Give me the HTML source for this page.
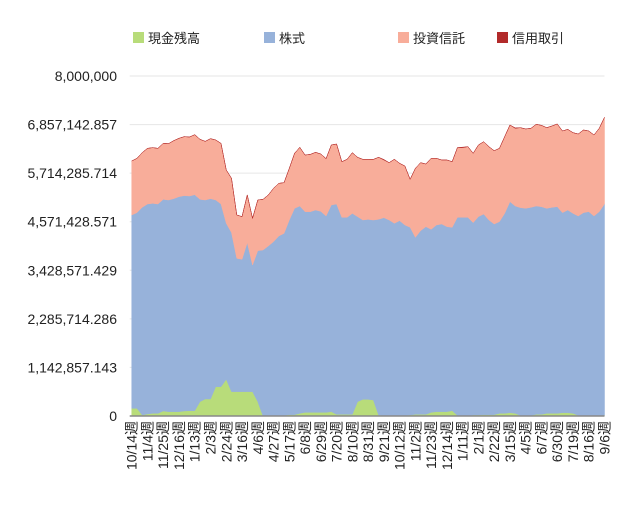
<!DOCTYPE html>
<html><head><meta charset="utf-8"><style>
body{margin:0;background:#fff;}
svg{display:block;font-family:"Liberation Sans","Noto Sans CJK JP",sans-serif;}
</style></head><body>
<svg id="chart" width="640" height="512" viewBox="0 0 640 512">
<g id="legend">
<g><rect x="133" y="32" width="11" height="11" fill="#b8dc7a"/><text x="148" y="43" font-size="13" fill="#222">現金残高</text></g>
<g><rect x="264" y="32" width="11" height="11" fill="#97b2da"/><text x="279" y="43" font-size="13" fill="#222">株式</text></g>
<g><rect x="398" y="32" width="11" height="11" fill="#f8ad9a"/><text x="413" y="43" font-size="13" fill="#222">投資信託</text></g>
<g><rect x="497" y="32" width="11" height="11" fill="#b22a2a"/><text x="512" y="43" font-size="13" fill="#222">信用取引</text></g>
</g>
<g id="grid"></g>
<g id="areas"></g>
<g id="yaxis"></g>
<g id="xaxis"></g>
</svg>
<script>
// values in thousands of yen
const cash=[180,180,24,47,63,63,118,102,102,102,118,125,125,337,400,400,690,690,863,573,573,573,573,573,337,0,16,16,16,16,31,31,63,86,86,86,86,86,102,39,39,39,39,337,392,392,376,24,16,16,16,16,16,24,39,39,39,86,102,102,102,125,16,16,0,24,24,31,31,31,63,63,78,63,16,16,16,39,39,63,63,63,78,78,63,16,16,16,16,16,16];
const stock=[4549,4604,4886,4941,4941,4925,4980,4980,5012,5059,5067,5051,5082,4761,4682,4714,4392,4298,3671,3741,3137,3114,3506,2980,3553,3906,3984,4086,4220,4282,4580,4855,4878,4721,4721,4761,4729,4620,4863,4949,4635,4635,4729,4353,4220,4235,4235,4604,4651,4596,4518,4580,4478,4416,4165,4322,4416,4306,4392,4416,4353,4314,4659,4659,4674,4525,4667,4721,4580,4486,4510,4706,4965,4878,4886,4871,4894,4902,4886,4823,4847,4863,4706,4769,4706,4690,4769,4792,4690,4792,4973];
const trust=[1271,1278,1286,1310,1310,1310,1318,1325,1365,1373,1388,1388,1412,1412,1380,1412,1412,1427,1255,1278,1020,1004,1122,1098,1192,1192,1200,1255,1239,1192,1216,1294,1380,1333,1349,1357,1349,1349,1412,1412,1310,1365,1427,1396,1427,1412,1427,1459,1357,1349,1506,1349,1388,1129,1624,1600,1474,1671,1569,1506,1569,1545,1639,1639,1663,1631,1686,1702,1725,1725,1725,1804,1804,1827,1882,1867,1859,1922,1914,1898,1914,1945,1922,1898,1898,1929,1945,1898,1906,1961,2039];
const margin=[0,0,0,0,0,0,0,0,0,0,0,0,0,0,0,0,0,0,0,0,0,0,0,0,0,0,0,0,0,0,0,0,0,0,0,0,0,0,0,0,0,0,0,0,0,0,0,0,12,0,0,0,0,0,0,0,0,0,0,0,0,0,0,12,0,0,0,0,0,0,0,0,0,12,0,0,0,0,0,0,0,0,0,0,0,0,0,0,0,0,0];
const xLabels=["10/14週","11/4週","11/25週","12/16週","1/13週","2/3週","2/24週","3/16週","4/6週","4/27週","5/17週","6/8週","6/29週","7/20週","8/10週","8/31週","9/21週","10/12週","11/2週","11/23週","12/14週","1/11週","2/1週","2/22週","3/15週","4/5週","6/7週","6/30週","7/19週","8/16週","9/6週"];
const yTicks=["0","1,142,857.143","2,285,714.286","3,428,571.429","4,571,428.571","5,714,285.714","6,857,142.857","8,000,000"];
const yMax=8000000, unit=1000;
const L=131.7,R=604.5,T=76,B=416;
const NS='http://www.w3.org/2000/svg';
const n=cash.length;
const xs=i=>L+(R-L)*i/(n-1);
const ys=v=>B-(B-T)*v/yMax;
function mk(tag,attrs,parent){const e=document.createElementNS(NS,tag);for(const k in attrs)e.setAttribute(k,attrs[k]);parent.appendChild(e);return e;}
const grid=document.getElementById('grid'),yaxis=document.getElementById('yaxis'),xaxis=document.getElementById('xaxis'),areas=document.getElementById('areas');
yTicks.forEach((t,k)=>{const v=yMax*k/(yTicks.length-1);const y=ys(v);
 if(k>0){const g=mk('line',{x1:L-2,x2:R,y1:y,y2:y,stroke:'#e6e6e6','stroke-width':1},grid);
 
 }
 const tx=mk('text',{x:117,y:y+5,'text-anchor':'end','font-size':14,fill:'#222'},yaxis);tx.textContent=t;
 
 
});
const series=[[cash,'#b8dc7a','area-cash'],[stock,'#97b2da','area-stock'],[trust,'#f8ad9a','area-trust'],[margin,'#b22a2a','area-margin']];
let base=new Array(n).fill(0);
series.forEach(([arr,col,name])=>{const top=base.map((b,i)=>b+arr[i]*unit);
 let d='M'+xs(0)+','+ys(top[0]);for(let i=1;i<n;i++)d+='L'+xs(i)+','+ys(top[i]);
 for(let i=n-1;i>=0;i--)d+='L'+xs(i)+','+ys(base[i]);d+='Z';
 const p=mk('path',{d:d,fill:col,stroke:col,'stroke-width':0.5},areas);
 
 
 base=top;});
const bl=mk('line',{x1:L-2,x2:R,y1:B,y2:B,stroke:'#888','stroke-width':1.5},xaxis);


xLabels.forEach((t,k)=>{const x=xs(k*3)+5;const tx=mk('text',{transform:`translate(${x},421) rotate(-90)`,'text-anchor':'end','font-size':14,fill:'#222'},xaxis);tx.textContent=t;
 
 });
</script>
</body></html>
